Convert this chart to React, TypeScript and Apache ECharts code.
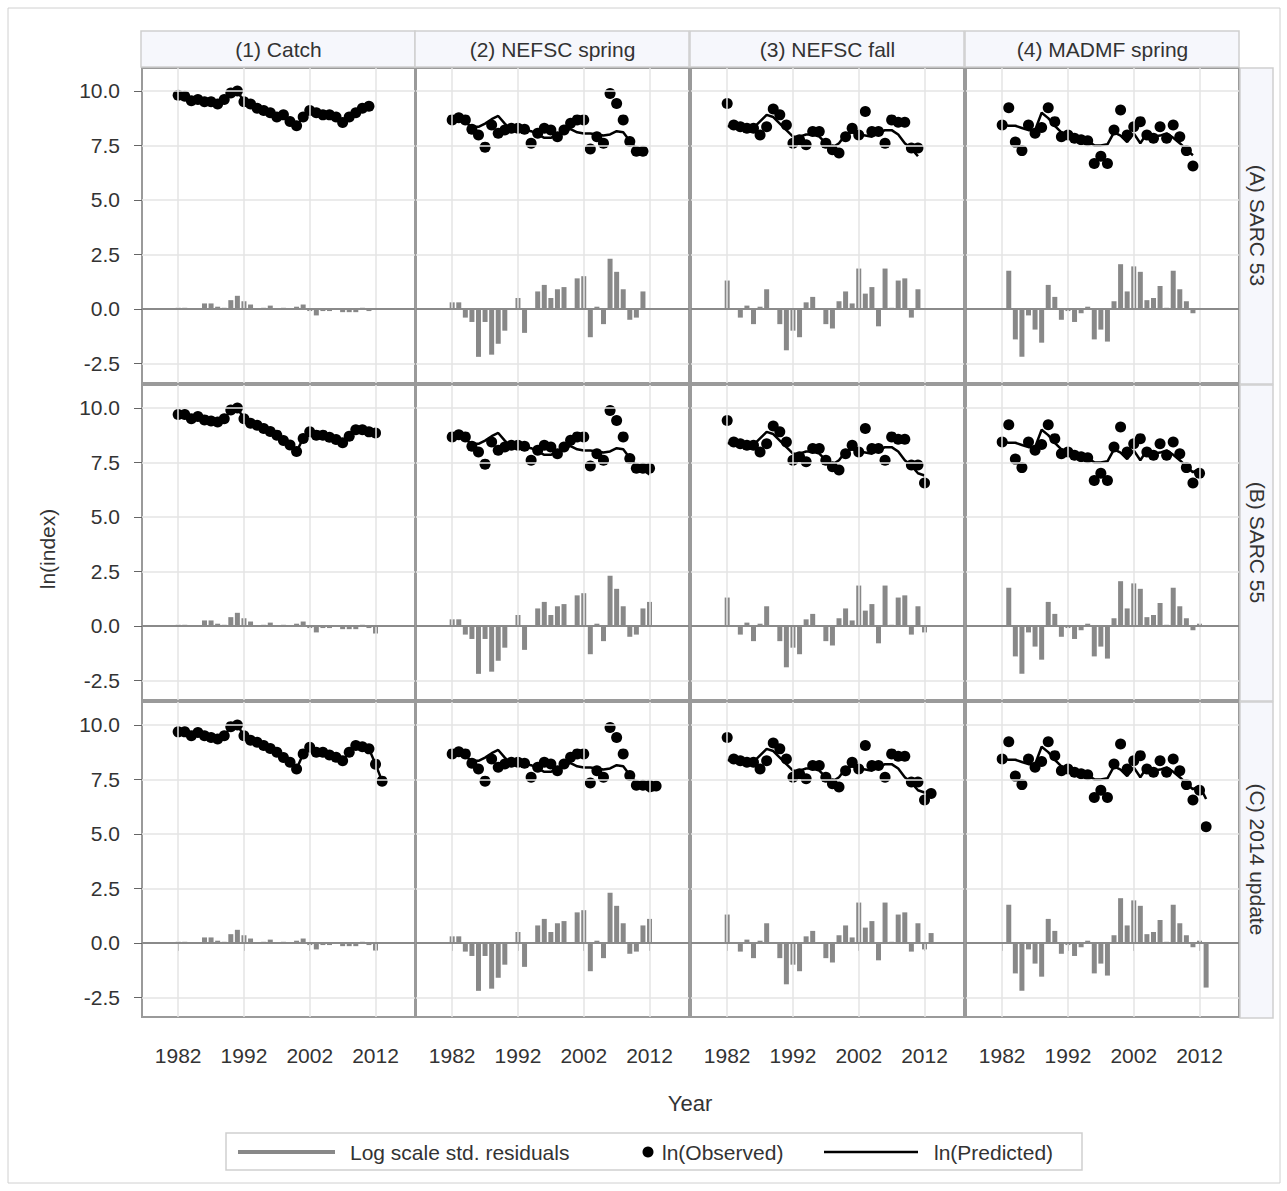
import * as echarts from "echarts";
import { useEffect, useRef } from "react";

const years = [1982, 1983, 1984, 1985, 1986, 1987, 1988, 1989, 1990, 1991, 1992, 1993, 1994, 1995, 1996, 1997,
  1998, 1999, 2000, 2001, 2002, 2003, 2004, 2005, 2006, 2007, 2008, 2009, 2010, 2011, 2012, 2013];
const colTitles = ["(1) Catch", "(2) NEFSC spring", "(3) NEFSC fall", "(4) MADMF spring"];
const rowTitles = ["(A) SARC 53", "(B) SARC 55", "(C) 2014 update"];
const rowLastYear = [2011, 2012, 2013];
const yTicks = [-2.5, 0, 2.5, 5, 7.5, 10];
const xTicks = [1982, 1992, 2002, 2012];

// catch (obs ~ pred), one per row
const catchObsA = [9.8, 9.75, 9.55, 9.6, 9.5, 9.5, 9.4, 9.6, 9.9, 10.0, 9.5, 9.4, 9.2, 9.1, 9.0, 8.8, 8.9, 8.6, 8.4,
  8.8, 9.1, 9.0, 8.9, 8.9, 8.8, 8.55, 8.8, 9.0, 9.2, 9.3];
const catchObsB = [9.7, 9.7, 9.5, 9.6, 9.45, 9.4, 9.35, 9.5, 9.9, 10.0, 9.5, 9.3, 9.2, 9.05, 8.92, 8.75, 8.5, 8.3,
  8.0, 8.6, 8.9, 8.75, 8.75, 8.65, 8.55, 8.4, 8.7, 9.0, 9.0, 8.9, 8.85];
const catchObsC = [9.68, 9.68, 9.5, 9.65, 9.5, 9.42, 9.35, 9.5, 9.92, 10.0, 9.5, 9.3, 9.2, 9.05, 8.92, 8.74, 8.5,
  8.29, 7.98, 8.67, 8.97, 8.74, 8.74, 8.62, 8.52, 8.36, 8.74, 9.05, 9.0, 8.9, 8.2, 7.42];
const catchResid = [0.05, 0.05, 0.0, -0.05, 0.25, 0.25, 0.1, 0.05, 0.4, 0.6, 0.35, 0.2, -0.05, 0.05, 0.15, -0.05,
  0.05, -0.05, 0.1, 0.2, -0.1, -0.3, -0.1, -0.1, -0.05, -0.15, -0.15, -0.15, 0.05, -0.1, -0.35, 0.0];

const springObs = [8.67, 8.77, 8.67, 8.24, 7.98, 7.42, 8.44, 8.06, 8.21, 8.29, 8.29, 8.24, 7.6, 8.06, 8.29, 8.21,
  7.9, 8.21, 8.52, 8.67, 8.67, 7.33, 7.9, 7.6, 9.88, 9.42, 8.67, 7.68, 7.23, 7.23, 7.23, 7.2];
const springPred = [8.67, 8.7, 8.55, 8.35, 8.35, 8.5, 8.7, 8.85, 8.5, 8.2, 8.25, 8.2, 8.15, 8.0, 7.85, 7.85, 8.0,
  8.15, 8.25, 8.1, 8.05, 8.05, 8.0, 7.95, 8.0, 8.15, 8.1, 7.7, 7.35, 7.15, 6.95, 7.05];
const springResid = [0.3, 0.3, -0.4, -0.6, -2.2, -0.6, -2.1, -1.6, -1.0, 0.0, 0.5, -1.1, 0.0, 0.8, 1.1, 0.5, 0.9,
  1.0, 0.0, 1.4, 1.5, -1.3, 0.1, -0.7, 2.3, 1.7, 0.9, -0.5, -0.4, 0.8, 1.1, 0.0];

const fallObs = [9.42, 8.44, 8.36, 8.29, 8.29, 7.98, 8.36, 9.17, 8.9, 8.44, 7.6, 7.76, 7.53, 8.14, 8.14, 7.6, 7.3,
  7.15, 7.9, 8.29, 7.98, 9.05, 8.14, 8.14, 7.6, 8.67, 8.56, 8.56, 7.38, 7.38, 6.55, 6.85];
const fallPred = [8.4, 8.3, 8.3, 8.3, 8.3, 8.6, 8.9, 8.8, 8.5, 8.2, 7.9, 7.9, 8.0, 8.0, 7.9, 7.6, 7.4, 7.6, 8.0, 8.1,
  8.0, 7.95, 7.9, 8.05, 8.2, 8.2, 8.0, 7.6, 7.35, 7.0, 6.9, 7.0];
const fallResid = [1.3, -0.05, -0.4, 0.15, -0.7, 0.1, 0.9, 0.0, -0.7, -1.9, -1.0, -1.3, 0.3, 0.55, 0.0, -0.7, -0.9,
  0.35, 0.8, 0.25, 1.85, 0.7, 1.0, -0.8, 1.85, 0.05, 1.3, 1.4, -0.4, 0.9, -0.3, 0.45];

const madmfObs = [8.44, 9.23, 7.65, 7.26, 8.44, 8.06, 8.32, 9.23, 8.59, 7.9, 7.98, 7.83, 7.76, 7.71, 6.67, 7.0, 6.67,
  8.21, 9.12, 7.98, 8.36, 8.59, 7.98, 7.83, 8.36, 7.83, 8.44, 7.9, 7.26, 6.55, 7.0, 5.33];
const madmfPred = [8.44, 8.4, 8.4, 8.3, 8.2, 8.2, 9.0, 8.75, 8.4, 8.1, 8.0, 7.9, 7.8, 7.7, 7.5, 7.5, 7.55, 8.1, 7.95,
  7.65, 8.05, 7.6, 8.05, 7.9, 7.95, 8.05, 7.85, 7.6, 7.3, 7.05, 7.2, 6.6];
const madmfResid = [-0.05, 1.75, -1.4, -2.2, -0.3, -0.95, -1.55, 1.1, 0.55, -0.5, -0.1, -0.6, -0.2, 0.1, -1.4,
  -0.95, -1.5, 0.35, 2.05, 0.8, 1.95, 1.7, 0.4, 0.5, 1.05, 0.05, 1.75, 0.9, 0.35, -0.2, 0.1, -2.05];

const colLeft = [142, 416, 691, 966];
const rowTop = [68, 385, 702];
const panelW = 273;
const panelH = 315;
const FONT = "Liberation Sans, Arial, sans-serif";
const FS = 21;

function pairs(vals: number[], n: number) {
  return years.slice(0, n).map((y, i) => [y, vals[i]]);
}

function buildOption() {
  const grid: any[] = [];
  const xAxis: any[] = [];
  const yAxis: any[] = [];
  const series: any[] = [];
  const graphic: any[] = [];

  graphic.push({ type: "rect", shape: { x: 8, y: 8, width: 1272, height: 1175 }, style: { fill: "none", stroke: "#d0d0d0", lineWidth: 1 } });

  const obsBy = [
    [catchObsA, catchObsB, catchObsC],
    [springObs, springObs, springObs],
    [fallObs, fallObs, fallObs],
    [madmfObs, madmfObs, madmfObs],
  ];
  const predBy = [
    [catchObsA, catchObsB, catchObsC],
    [springPred, springPred, springPred],
    [fallPred, fallPred, fallPred],
    [madmfPred, madmfPred, madmfPred],
  ];
  const residBy = [catchResid, springResid, fallResid, madmfResid];

  let idx = 0;
  for (let r = 0; r < 3; r++) {
    for (let c = 0; c < 4; c++) {
      const n = rowLastYear[r] - 1982 + 1;
      grid.push({
        left: colLeft[c], top: rowTop[r], width: panelW, height: panelH,
        show: true, borderColor: "#9a9a9a", borderWidth: 2, backgroundColor: "#fff",
      });
      xAxis.push({
        type: "value", gridIndex: idx, min: 1976.5, max: 2018,
        axisLine: { show: false }, splitLine: { show: false },
        axisTick: { show: r === 2, customValues: xTicks, length: 8, lineStyle: { color: "#666" } },
        axisLabel: { show: r === 2, customValues: xTicks, formatter: (v: number) => String(v), fontSize: FS, color: "#333", fontFamily: FONT, margin: 28 },
      });
      yAxis.push({
        type: "value", gridIndex: idx, min: -3.4, max: 11.05,
        axisLine: { show: false }, splitLine: { show: false },
        axisTick: { show: c === 0, customValues: yTicks, length: 8, lineStyle: { color: "#666" } },
        axisLabel: { show: c === 0, customValues: yTicks, formatter: (v: number) => v.toFixed(1), fontSize: FS, color: "#333", fontFamily: FONT, margin: 22 },
      });
      // gridlines
      series.push({
        type: "line", xAxisIndex: idx, yAxisIndex: idx, data: [], silent: true, z: 1,
        markLine: {
          silent: true, symbol: "none", label: { show: false }, animation: false,
          lineStyle: { color: "#e4e4e4", width: 1.5, type: "solid" },
          data: [...yTicks.map((v) => ({ yAxis: v })), ...xTicks.map((v) => ({ xAxis: v }))],
        },
      });
      series.push({
        type: "bar", xAxisIndex: idx, yAxisIndex: idx, z: 2, barWidth: 5,
        itemStyle: { color: "#888888" }, data: pairs(residBy[c], n),
        markLine: {
          silent: true, symbol: "none", label: { show: false }, animation: false,
          lineStyle: { color: "#8a8a8a", width: 2, type: "solid" }, data: [{ yAxis: 0 }],
        },
      });
      series.push({
        type: "line", xAxisIndex: idx, yAxisIndex: idx, z: 3, showSymbol: false, symbol: "none",
        lineStyle: { color: "#000", width: 2.5 }, data: pairs(predBy[c][r], n),
      });
      series.push({
        type: "scatter", xAxisIndex: idx, yAxisIndex: idx, z: 4, symbolSize: 11,
        itemStyle: { color: "#000", opacity: 1 }, data: pairs(obsBy[c][r], n),
      });
      idx++;
    }
  }

  colTitles.forEach((t, c) => {
    graphic.push({ type: "rect", shape: { x: colLeft[c] - 1, y: 31, width: panelW + 1, height: 36 }, style: { fill: "#f6f7fc", stroke: "#cfcfcf", lineWidth: 1.5 } });
    graphic.push({ type: "text", x: colLeft[c] + panelW / 2, y: 49, style: { text: t, fill: "#333", font: `${FS}px ${FONT}`, textAlign: "center", textVerticalAlign: "middle" } });
  });
  rowTitles.forEach((t, r) => {
    graphic.push({ type: "rect", shape: { x: 1240, y: rowTop[r], width: 33, height: panelH + 1 }, style: { fill: "#f6f7fc", stroke: "#cfcfcf", lineWidth: 1.5 } });
    graphic.push({ type: "text", x: 1257, y: rowTop[r] + panelH / 2, rotation: -Math.PI / 2, style: { text: t, fill: "#333", font: `${FS}px ${FONT}`, textAlign: "center", textVerticalAlign: "middle" } });
  });
  graphic.push({ type: "text", x: 47, y: 549, rotation: Math.PI / 2, style: { text: "ln(index)", fill: "#333", font: `${FS}px ${FONT}`, textAlign: "center", textVerticalAlign: "middle" } });
  graphic.push({ type: "text", x: 690, y: 1103, style: { text: "Year", fill: "#333", font: `22px ${FONT}`, textAlign: "center", textVerticalAlign: "middle" } });

  // legend
  graphic.push({ type: "rect", shape: { x: 226, y: 1133, width: 856, height: 37 }, style: { fill: "#fff", stroke: "#cfcfcf", lineWidth: 1.5 } });
  graphic.push({ type: "line", shape: { x1: 238, y1: 1152, x2: 335, y2: 1152 }, style: { stroke: "#888", lineWidth: 4 } });
  graphic.push({ type: "text", x: 350, y: 1152, style: { text: "Log scale std. residuals", fill: "#333", font: `${FS}px ${FONT}`, textVerticalAlign: "middle" } });
  graphic.push({ type: "circle", shape: { cx: 648, cy: 1152, r: 5.5 }, style: { fill: "#000" } });
  graphic.push({ type: "text", x: 662, y: 1152, style: { text: "ln(Observed)", fill: "#333", font: `${FS}px ${FONT}`, textVerticalAlign: "middle" } });
  graphic.push({ type: "line", shape: { x1: 824, y1: 1152, x2: 918, y2: 1152 }, style: { stroke: "#000", lineWidth: 2.5 } });
  graphic.push({ type: "text", x: 934, y: 1152, style: { text: "ln(Predicted)", fill: "#333", font: `${FS}px ${FONT}`, textVerticalAlign: "middle" } });

  return { animation: false, backgroundColor: "#fff", grid, xAxis, yAxis, series, graphic };
}

export default function App() {
  const ref = useRef<HTMLDivElement>(null);
  useEffect(() => {
    const chart = echarts.init(ref.current, undefined, { renderer: "svg" });
    chart.setOption(buildOption() as any);
    return () => chart.dispose();
  }, []);
  return <div ref={ref} style={{ position: "absolute", left: 0, top: 0, width: 1287, height: 1191 }} />;
}
